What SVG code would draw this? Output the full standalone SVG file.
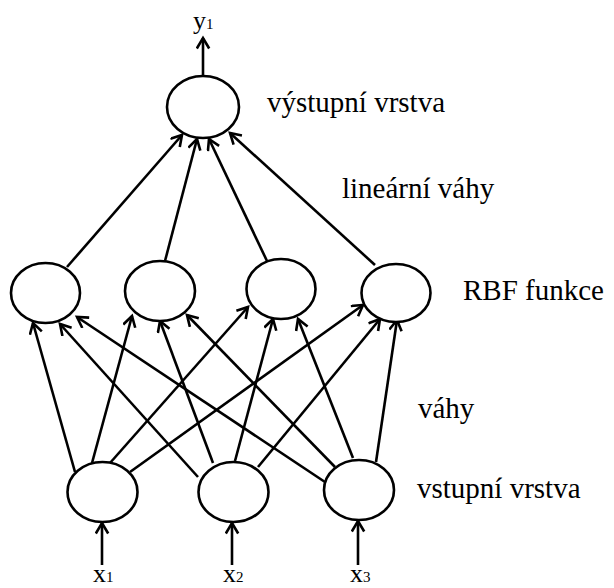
<svg xmlns="http://www.w3.org/2000/svg" width="614" height="588" viewBox="0 0 614 588">
<style>
.n{fill:#fff;stroke:#000;stroke-width:2.6}
.c line{stroke:#000;stroke-width:2.6;marker-end:url(#ah)}
text{font-family:'Liberation Serif',serif;fill:#000}
.t{font-size:29px}
.v{font-size:26px}
.s{font-size:15px}
</style>
<defs>
<marker id="ah" markerWidth="16" markerHeight="16" refX="12" refY="7" orient="auto" markerUnits="userSpaceOnUse">
<path d="M1.5,0.8 L12,7 L1.5,13.2" fill="none" stroke="#000" stroke-width="2.6"/>
</marker>
</defs>
<rect width="614" height="588" fill="#fff"/>
<g class="c" id="connectors">
<line x1="203" y1="77" x2="203" y2="38"/>
<line x1="67" y1="267" x2="182" y2="135"/>
<line x1="165" y1="261" x2="197" y2="139"/>
<line x1="267" y1="261" x2="209" y2="139"/>
<line x1="375" y1="265" x2="230" y2="133"/>
<line x1="75" y1="472" x2="33" y2="323"/>
<line x1="92" y1="463" x2="132" y2="316"/>
<line x1="110" y1="463" x2="248" y2="307"/>
<line x1="130" y1="472" x2="363" y2="305"/>
<line x1="198" y1="477" x2="60" y2="324"/>
<line x1="213" y1="463" x2="160" y2="321"/>
<line x1="235" y1="461" x2="273" y2="319"/>
<line x1="258" y1="467" x2="380" y2="319"/>
<line x1="325" y1="482" x2="77" y2="317"/>
<line x1="335" y1="467" x2="187" y2="315"/>
<line x1="353" y1="458" x2="298" y2="319"/>
<line x1="376" y1="462" x2="397" y2="320"/>
<line x1="102" y1="565" x2="102" y2="523"/>
<line x1="232" y1="565" x2="232" y2="523"/>
<line x1="358" y1="565" x2="358" y2="521"/>
</g>
<g id="out"><ellipse class="n" cx="203" cy="107" rx="36" ry="31"/></g>
<g id="h1"><ellipse class="n" cx="45.5" cy="293" rx="34.5" ry="30"/></g>
<g id="h2"><ellipse class="n" cx="160" cy="291" rx="35" ry="30"/></g>
<g id="h3"><ellipse class="n" cx="281" cy="289" rx="34.5" ry="30"/></g>
<g id="h4"><ellipse class="n" cx="396" cy="293" rx="34.5" ry="29"/></g>
<g id="i1"><ellipse class="n" cx="102.5" cy="492" rx="35" ry="30"/></g>
<g id="i2"><ellipse class="n" cx="233.5" cy="492" rx="35" ry="30"/></g>
<g id="i3"><ellipse class="n" cx="359" cy="490" rx="35" ry="30"/></g>
<g id="labels">
<text class="v" x="193" y="29">y<tspan class="s">1</tspan></text>
<text class="t" x="267" y="112">výstupní vrstva</text>
<text class="t" x="342" y="198">lineární váhy</text>
<text class="t" x="463" y="300">RBF funkce</text>
<text class="t" x="418" y="418">váhy</text>
<text class="t" x="417" y="498">vstupní vrstva</text>
<text class="v" x="93" y="582">x<tspan class="s">1</tspan></text>
<text class="v" x="223" y="582">x<tspan class="s">2</tspan></text>
<text class="v" x="350" y="582">x<tspan class="s">3</tspan></text>
</g>
</svg>
